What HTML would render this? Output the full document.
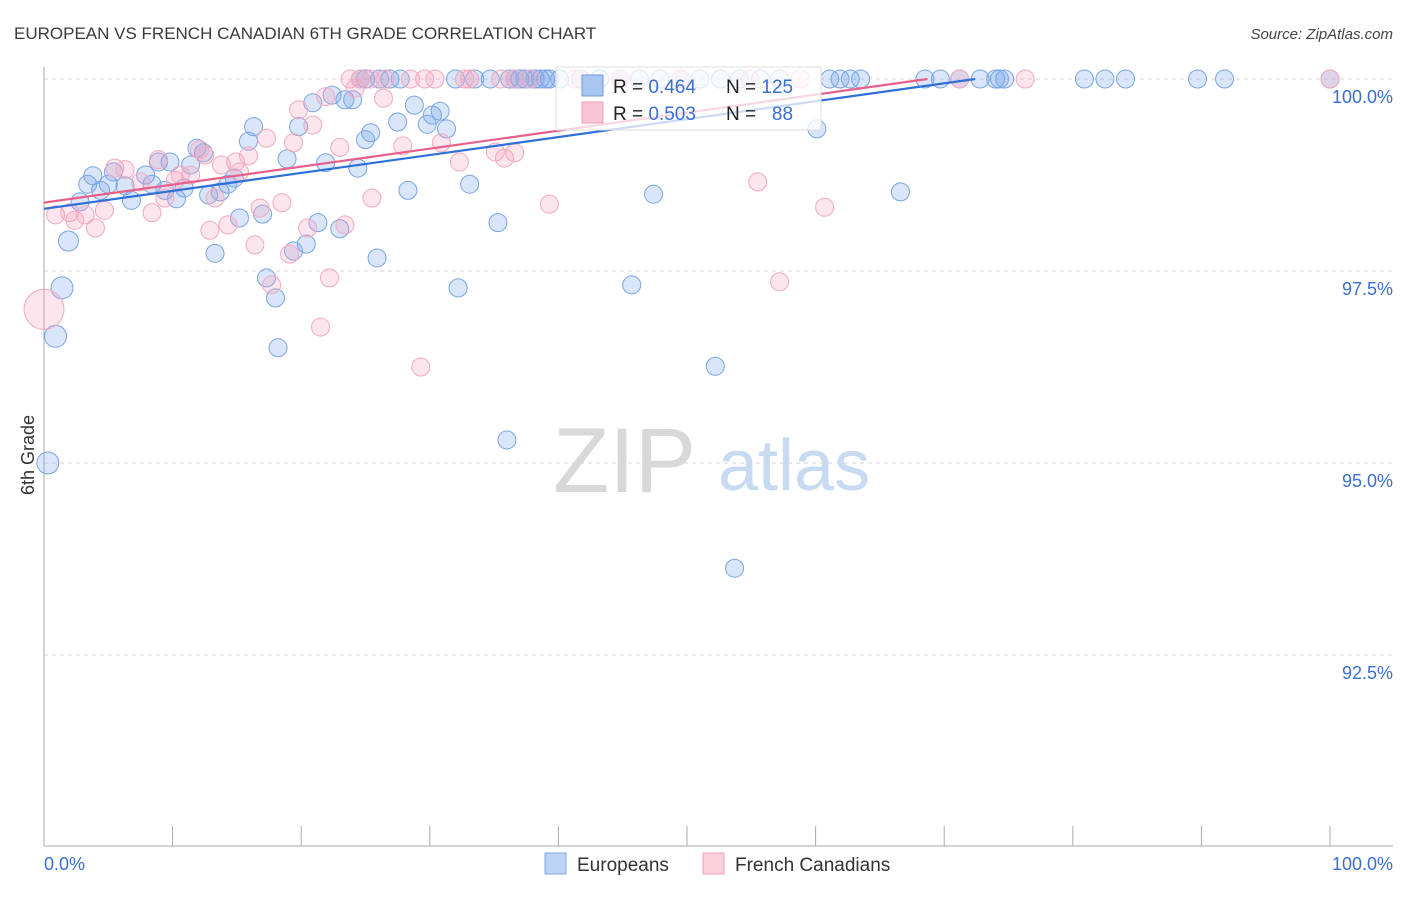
<!DOCTYPE html>
<html><head><meta charset="utf-8"><style>
body{margin:0;background:#fff;font-family:"Liberation Sans",sans-serif}
svg text{font-family:"Liberation Sans",sans-serif}
</style></head><body>
<svg id="chart" width="1406" height="892" viewBox="0 0 1406 892" xmlns="http://www.w3.org/2000/svg">
<text x="14" y="39" font-size="17" fill="#3a3a3a">EUROPEAN VS FRENCH CANADIAN 6TH GRADE CORRELATION CHART</text>
<text x="1393" y="39" font-size="15" fill="#444" font-style="italic" text-anchor="end">Source: ZipAtlas.com</text>
<g>
<text x="553" y="492" font-size="92" fill="#d8d8d8" font-family="Liberation Serif, serif">ZIP</text>
<text x="718" y="490" font-size="72" fill="#c8daf2">atlas</text>
</g>
<g id="grid"></g>
<g id="axes"></g>
<g id="marks"></g>
<g id="trends"></g>
<g>
<rect x="556" y="67" width="265" height="63" fill="#fff" fill-opacity="0.75" stroke="#ddd"/>
<rect x="582" y="75" width="21" height="21" fill="#a9c6f0" stroke="#6d9be0"/>
<rect x="582" y="102" width="21" height="21" fill="#f9c5d4" stroke="#f0a0b8"/>
<text x="613" y="93" font-size="19" fill="#222">R = <tspan fill="#3a6fd0">0.464</tspan></text>
<text x="726" y="93" font-size="19" fill="#222">N = <tspan fill="#3a6fd0">125</tspan></text>
<text x="613" y="120" font-size="19" fill="#222">R = <tspan fill="#3a6fd0">0.503</tspan></text>
<text x="726" y="120" font-size="19" fill="#222">N = <tspan fill="#3a6fd0">&#160; 88</tspan></text>
</g>
<g>
<rect x="545" y="853" width="21" height="21" fill="#bcd3f3" stroke="#7fa7e4"/>
<text x="577" y="871" font-size="19" fill="#333">Europeans</text>
<rect x="703" y="853" width="21" height="21" fill="#fbd0dc" stroke="#f0a0b8"/>
<text x="735" y="871" font-size="19" fill="#333">French Canadians</text>
</g>
<text transform="translate(34,455) rotate(-90)" font-size="18" fill="#333" text-anchor="middle">6th Grade</text>
</svg>
<script>
const yTicks=[100,97.5,95,92.5];
const yTickLabels=["100.0%","97.5%","95.0%","92.5%"];
const xTicks=[0,10,20,30,40,50,60,70,80,90,100];
const euroX=[0.3,0.9,1.4,1.9,2.8,3.4,3.8,4.4,5.0,5.4,6.3,6.8,7.9,8.4,8.9,9.4,9.8,10.3,10.9,11.4,11.9,12.4,12.8,13.3,13.7,14.3,14.8,15.2,15.9,16.3,17.0,17.3,18.0,18.2,18.9,19.4,19.8,20.4,20.9,21.3,21.9,22.4,23.0,23.4,24.0,24.4,25.0,25.4,25.9,27.5,28.3,28.8,29.8,30.2,30.8,31.3,32.2,33.1,35.3,36.0,45.7,47.4,52.2,53.7,60.1,66.6,
24.6,25.0,26.1,26.9,27.7,32.0,33.5,34.7,36.2,36.6,37.0,37.4,37.8,38.2,38.6,39.0,39.3,40.1,41.7,43.2,44.8,46.3,47.9,49.5,51.0,52.6,54.1,55.7,57.2,61.1,61.9,62.7,63.5,68.5,69.7,71.2,72.8,74.0,74.3,74.7,80.9,82.5,84.1,89.7,91.8,100];
const euroY=[95.0,96.65,97.28,97.89,98.40,98.63,98.74,98.55,98.63,98.79,98.61,98.42,98.75,98.63,98.92,98.55,98.92,98.44,98.58,98.88,99.10,99.04,98.49,97.73,98.53,98.63,98.71,98.19,99.19,99.38,98.24,97.41,97.15,96.50,98.96,97.76,99.38,97.85,99.69,98.13,98.91,99.79,98.05,99.73,99.73,98.84,99.21,99.30,97.67,99.44,98.55,99.66,99.41,99.53,99.58,99.35,97.28,98.63,98.13,95.30,97.32,98.50,96.26,93.63,99.35,98.53,
100,100,100,100,100,100,100,100,100,100,100,100,100,100,100,100,100,100,100,100,100,100,100,100,100,100,100,100,100,100,100,100,100,100,100,100,100,100,100,100,100,100,100,100,100,100];
const euroSize=[11,11,11,10];
const frX=[0,0.9,2.0,2.4,3.2,4.0,4.7,5.5,6.3,7.5,8.4,8.9,9.4,10.2,10.6,11.4,12.1,12.5,12.9,13.3,13.8,14.3,14.9,15.2,15.9,16.4,16.8,17.3,17.7,18.5,19.1,19.4,19.8,20.5,20.9,21.5,21.9,22.2,23.0,23.4,24.2,25.5,26.4,27.9,29.3,30.9,32.3,35.1,35.8,36.6,39.3,55.5,57.2,60.7,
23.8,24.6,25.4,26.5,28.5,29.6,30.4,32.7,33.1,35.5,36.6,37.8,41.3,44.8,49.5,54.9,58.8,71.2,76.3,100];
const frY=[97.0,98.23,98.26,98.16,98.23,98.06,98.29,98.84,98.82,98.66,98.26,98.95,98.45,98.68,98.75,98.75,99.08,99.01,98.03,98.45,98.88,98.10,98.92,98.79,99.00,97.84,98.32,99.23,97.32,98.39,97.72,99.17,99.60,98.06,99.40,96.77,99.77,97.41,99.11,98.10,99.88,98.45,99.75,99.13,96.25,99.17,98.92,99.05,98.97,99.04,98.37,98.66,97.36,98.33,
100,100,100,100,100,100,100,100,100,100,100,100,100,100,100,100,100,100,100,100];
const frSize=[20];
const trendIntercept=[98.31,98.39];
const trendEnd=[72.4,68.7];

const X0=44,X1=1330,Y100=79,PX_PER_PCT=76.8;
const sx=v=>X0+(X1-X0)*v/100;
const sy=v=>Y100+(100-v)*PX_PER_PCT;
const NS="http://www.w3.org/2000/svg";
function mk(tag,attrs,parent){const e=document.createElementNS(NS,tag);for(const k in attrs)e.setAttribute(k,attrs[k]);parent.appendChild(e);return e;}
const grid=document.getElementById('grid'),axes=document.getElementById('axes'),marks=document.getElementById('marks'),trends=document.getElementById('trends');
yTicks.forEach((t,i)=>{
  const l=mk('line',{x1:X0,x2:1393,y1:sy(t),y2:sy(t),stroke:'#d6d6d6','stroke-dasharray':'4,4'},grid);
  
  
  const tx=mk('text',{x:1393,y:sy(t)+24,'font-size':18,fill:'#3a6fd0','text-anchor':'end'},axes);
  tx.textContent=yTickLabels[i];
  
  
});
const ya=mk('line',{x1:X0,x2:X0,y1:67,y2:846,stroke:'#aaa'},axes);


const xa=mk('line',{x1:X0,x2:1393,y1:846,y2:846,stroke:'#aaa'},axes);


xTicks.forEach(t=>{
  const l=mk('line',{x1:sx(t),x2:sx(t),y1:826,y2:846,stroke:'#aaa'},axes);
  
  
});
const xl0=mk('text',{x:44,y:870,'font-size':18,fill:'#3a6fd0'},axes);xl0.textContent='0.0%';


const xl1=mk('text',{x:1393,y:870,'font-size':18,fill:'#3a6fd0','text-anchor':'end'},axes);xl1.textContent='100.0%';


euroX.forEach((v,i)=>{
  const c=mk('circle',{cx:sx(v),cy:sy(euroY[i]),r:euroSize[i]||9,fill:'rgba(120,165,235,0.28)',stroke:'#7aa4e3','stroke-width':1},marks);
  
  
});
frX.forEach((v,i)=>{
  const c=mk('circle',{cx:sx(v),cy:sy(frY[i]),r:frSize[i]||9,fill:'rgba(245,160,190,0.28)',stroke:'#f2a9bf','stroke-width':1},marks);
  
  
});
const tcol=['#2f6fd8','#e8608a'];
[1,0].forEach(i=>{
  const l=mk('line',{x1:sx(0),y1:sy(trendIntercept[i]),x2:sx(trendEnd[i]),y2:sy(100),stroke:tcol[i],'stroke-width':2.2},trends);
  
  
});
</script>
</body></html>
